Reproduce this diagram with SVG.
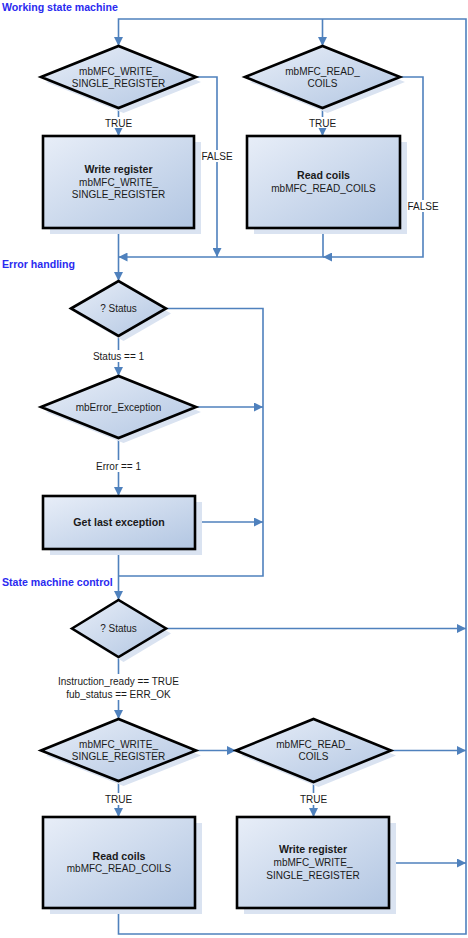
<svg xmlns="http://www.w3.org/2000/svg" width="468" height="938" viewBox="0 0 468 938">
  <style>
    .conn { fill: none; stroke: #4f81bd; stroke-width: 1.6; }
    .arr { marker-end: url(#arrow); }
    .node { stroke: #000; stroke-width: 2.6; fill: url(#nodeFill); stroke-linejoin: miter; }
    .shadow { fill: #dae3f1; stroke: none; }
    .t { font-family: "Liberation Sans", Arial, sans-serif; font-size: 10px; fill: #1a1a1a; text-anchor: middle; }
    .b { font-weight: bold; font-size: 10.6px; }
    .sec { font-family: "Liberation Sans", Arial, sans-serif; font-size: 10.6px; font-weight: bold; fill: #2a2af0; }
    .lbg { fill: #fff; }
  </style>
  <defs>
    <linearGradient id="nodeFill" x1="0" y1="0" x2="1" y2="1">
      <stop offset="0" stop-color="#e8eef8"/>
      <stop offset="1" stop-color="#b2c6e2"/>
    </linearGradient>
    <marker id="arrow" viewBox="0 0 10 10" refX="10" refY="5" markerWidth="9" markerHeight="9" markerUnits="userSpaceOnUse" orient="auto">
      <path d="M0,0 L10,5 L0,10 z" fill="#4f81bd"/>
    </marker>
  </defs>

  <rect width="468" height="938" fill="#fff"/>

  <!-- section headings -->
  <text class="sec" x="2" y="11">Working state machine</text>
  <text class="sec" x="2" y="268">Error handling</text>
  <text class="sec" x="2" y="586">State machine control</text>

  <!-- connectors -->
  <g id="connectors">
    <path class="conn arr" d="M118.5,908 V934 H466 V19 H118.5 V46"/>
    <path class="conn arr" d="M322.5,19 V46"/>
    <path class="conn arr" d="M118.5,108 V136"/>
    <path class="conn arr" d="M322.5,108 V136"/>
    <path class="conn arr" d="M196,77 H217 V257"/>
    <path class="conn arr" d="M400,77 H423 V257 H323"/>
    <path class="conn arr" d="M323,228 V257 H118.5"/>
    <path class="conn arr" d="M118.5,228 V281"/>
    <path class="conn" d="M166,308.5 H263 V576 H118.5"/>
    <path class="conn arr" d="M118.5,336 V376"/>
    <path class="conn arr" d="M196,407 H263"/>
    <path class="conn arr" d="M118.5,438 V496"/>
    <path class="conn arr" d="M195,522 H263"/>
    <path class="conn arr" d="M118.5,549 V600"/>
    <path class="conn arr" d="M166,628.5 H466"/>
    <path class="conn arr" d="M118.5,657 V719"/>
    <path class="conn arr" d="M196,750.5 H236"/>
    <path class="conn arr" d="M391,750.5 H466"/>
    <path class="conn arr" d="M118.5,781 V817"/>
    <path class="conn arr" d="M313.5,782 V817"/>
    <path class="conn arr" d="M389,863 H466"/>

    <!-- edge labels -->
    <rect class="lbg" x="103" y="117" width="31" height="11"/>
    <text class="t" x="118.5" y="126.5">TRUE</text>
    <rect class="lbg" x="307" y="117" width="31" height="11"/>
    <text class="t" x="322.5" y="126.5">TRUE</text>
    <rect class="lbg" x="200" y="150" width="34" height="12"/>
    <text class="t" x="217" y="160">FALSE</text>
    <rect class="lbg" x="406" y="200" width="34" height="12"/>
    <text class="t" x="423" y="210">FALSE</text>
    <rect class="lbg" x="90" y="350" width="57" height="12"/>
    <text class="t" x="118.5" y="360">Status == 1</text>
    <rect class="lbg" x="93" y="460" width="51" height="12"/>
    <text class="t" x="118.5" y="470">Error == 1</text>
    <rect class="lbg" x="52" y="674" width="133" height="26"/>
    <text class="t" x="118.5" y="684.5">Instruction_ready == TRUE</text>
    <text class="t" x="118.5" y="697.5">fub_status == ERR_OK</text>
    <rect class="lbg" x="103" y="793" width="31" height="12"/>
    <text class="t" x="118.5" y="803">TRUE</text>
    <rect class="lbg" x="298" y="793" width="31" height="12"/>
    <text class="t" x="313.5" y="803">TRUE</text>
  </g>

  <!-- working state machine -->
  <g id="decWrite1">
    <polygon class="shadow" points="46,82 123.5,51 201,82 123.5,113"/>
    <polygon class="node" points="41,77 118.5,46 196,77 118.5,108"/>
    <text class="t" x="118.5" y="75">mbMFC_WRITE_</text>
    <text class="t" x="118.5" y="87">SINGLE_REGISTER</text>
  </g>
  <g id="decRead1">
    <polygon class="shadow" points="250,82 327.5,51 405,82 327.5,113"/>
    <polygon class="node" points="245,77 322.5,46 400,77 322.5,108"/>
    <text class="t" x="322.5" y="75">mbMFC_READ_</text>
    <text class="t" x="322.5" y="87">COILS</text>
  </g>
  <g id="procWrite1">
    <rect class="shadow" x="50" y="142" width="151" height="92"/>
    <rect class="node" x="43" y="136" width="151" height="92"/>
    <text class="t b" x="118.5" y="173">Write register</text>
    <text class="t" x="118.5" y="185.5">mbMFC_WRITE_</text>
    <text class="t" x="118.5" y="198">SINGLE_REGISTER</text>
  </g>
  <g id="procRead1">
    <rect class="shadow" x="254" y="142" width="153" height="92"/>
    <rect class="node" x="247" y="136" width="153" height="92"/>
    <text class="t b" x="323.5" y="179">Read coils</text>
    <text class="t" x="323.5" y="192">mbMFC_READ_COILS</text>
  </g>

  <!-- error handling -->
  <g id="decStatus1">
    <polygon class="shadow" points="76,313.5 123.5,286 171,313.5 123.5,341"/>
    <polygon class="node" points="71,308.5 118.5,281 166,308.5 118.5,336"/>
    <text class="t" x="118.5" y="312">? Status</text>
  </g>
  <g id="decError">
    <polygon class="shadow" points="46,412 123.5,381 201,412 123.5,443"/>
    <polygon class="node" points="41,407 118.5,376 196,407 118.5,438"/>
    <text class="t" x="118.5" y="410.5">mbError_Exception</text>
  </g>
  <g id="procException">
    <rect class="shadow" x="50" y="502" width="152" height="53"/>
    <rect class="node" x="43" y="496" width="152" height="53"/>
    <text class="t b" x="119" y="526">Get last exception</text>
  </g>

  <!-- state machine control -->
  <g id="decStatus2">
    <polygon class="shadow" points="77,633.5 123.5,605 171,633.5 123.5,662"/>
    <polygon class="node" points="72,628.5 118.5,600 166,628.5 118.5,657"/>
    <text class="t" x="118.5" y="632">? Status</text>
  </g>
  <g id="decWrite2">
    <polygon class="shadow" points="46,755.5 123.5,724 201,755.5 123.5,786"/>
    <polygon class="node" points="41,750.5 118.5,719 196,750.5 118.5,781"/>
    <text class="t" x="118.5" y="747.5">mbMFC_WRITE_</text>
    <text class="t" x="118.5" y="759.5">SINGLE_REGISTER</text>
  </g>
  <g id="decRead2">
    <polygon class="shadow" points="241,755.5 318.5,724 396,755.5 318.5,787"/>
    <polygon class="node" points="236,750.5 313.5,719 391,750.5 313.5,782"/>
    <text class="t" x="313.5" y="747.5">mbMFC_READ_</text>
    <text class="t" x="313.5" y="759.5">COILS</text>
  </g>
  <g id="procRead2">
    <rect class="shadow" x="50" y="823" width="152" height="91"/>
    <rect class="node" x="43" y="817" width="152" height="91"/>
    <text class="t b" x="119" y="859.5">Read coils</text>
    <text class="t" x="119" y="872">mbMFC_READ_COILS</text>
  </g>
  <g id="procWrite2">
    <rect class="shadow" x="244" y="823" width="152" height="91"/>
    <rect class="node" x="237" y="817" width="152" height="91"/>
    <text class="t b" x="313" y="853">Write register</text>
    <text class="t" x="313" y="866">mbMFC_WRITE_</text>
    <text class="t" x="313" y="878.5">SINGLE_REGISTER</text>
  </g>
</svg>
